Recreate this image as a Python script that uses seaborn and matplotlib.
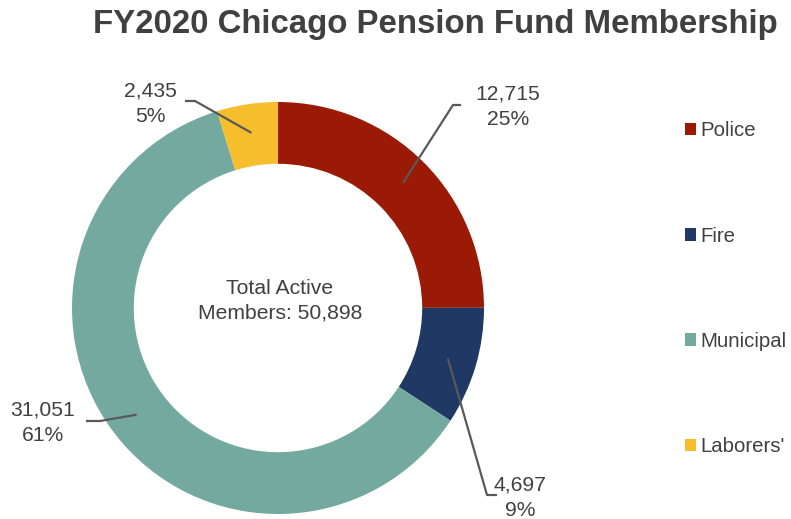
import matplotlib
matplotlib.use("Agg")
import matplotlib.pyplot as plt
import numpy as np
import seaborn as sns

sns.set_theme(style="white")
plt.rcParams["font.family"] = ["Liberation Sans", "DejaVu Sans"]

# data
funds = ["Police", "Fire", "Municipal", "Laborers'"]
members = [12715, 4697, 31051, 2435]
colors = ["#9A1A06", "#1F3864", "#74A9A0", "#F6BE2C"]

TEXT = "#404040"
LINE = "#595959"
FS = 15.2

fig = plt.figure(figsize=(7.91, 5.19), dpi=100)
ax = fig.add_axes([0, 0, 1, 1])

cx, cy, R = 278, 211, 206
wedges, _ = ax.pie(members, colors=colors, startangle=90, counterclock=False,
                   center=(cx, cy), radius=R, frame=True,
                   wedgeprops=dict(width=R * 0.30, linewidth=0))
ax.set_xlim(0, 791)
ax.set_ylim(0, 519)
ax.set_aspect("equal")
ax.axis("off")

total = sum(members)
ax.text(cx + 2, cy + 7, f"Total Active\nMembers: {total:,}", ha="center", va="center",
        fontsize=FS, color=TEXT, linespacing=1.35)

# label layout: (elbow x, elbow y, end x, text x, text y)
layout = [
    (453, 414, 461, 508, 412),
    (487, 24, 497, 520, 21),
    (100, 98, 86, 43, 96),
    (195, 418, 185, 150, 415),
]

for w, n, (ex, ey, tx, lx, ly) in zip(wedges, members, layout):
    mid = np.deg2rad((w.theta1 + w.theta2) / 2)
    ax0 = cx + 0.86 * R * np.cos(mid)
    ay0 = cy + 0.86 * R * np.sin(mid)
    ax.plot([ax0, ex, tx], [ay0, ey, ey], color=LINE, lw=1.6, solid_capstyle="butt")
    ax.text(lx, ly, f"{n:,}\n{n / total:.0%}", ha="center", va="center",
            fontsize=FS, color=TEXT, linespacing=1.45)

fig.text(0.551, 0.952, "FY2020 Chicago Pension Fund Membership", ha="center", va="center",
         fontsize=23.8, fontweight="bold", color=TEXT)

leg = fig.legend(wedges, funds, loc="upper left", bbox_to_anchor=(0.866, 0.766),
                 frameon=False, fontsize=14.7, labelcolor=TEXT, labelspacing=4.22,
                 handlelength=0.55, handleheight=0.55, handletextpad=0.22,
                 borderpad=0, borderaxespad=0)

fig.savefig("out.png", dpi=100)
